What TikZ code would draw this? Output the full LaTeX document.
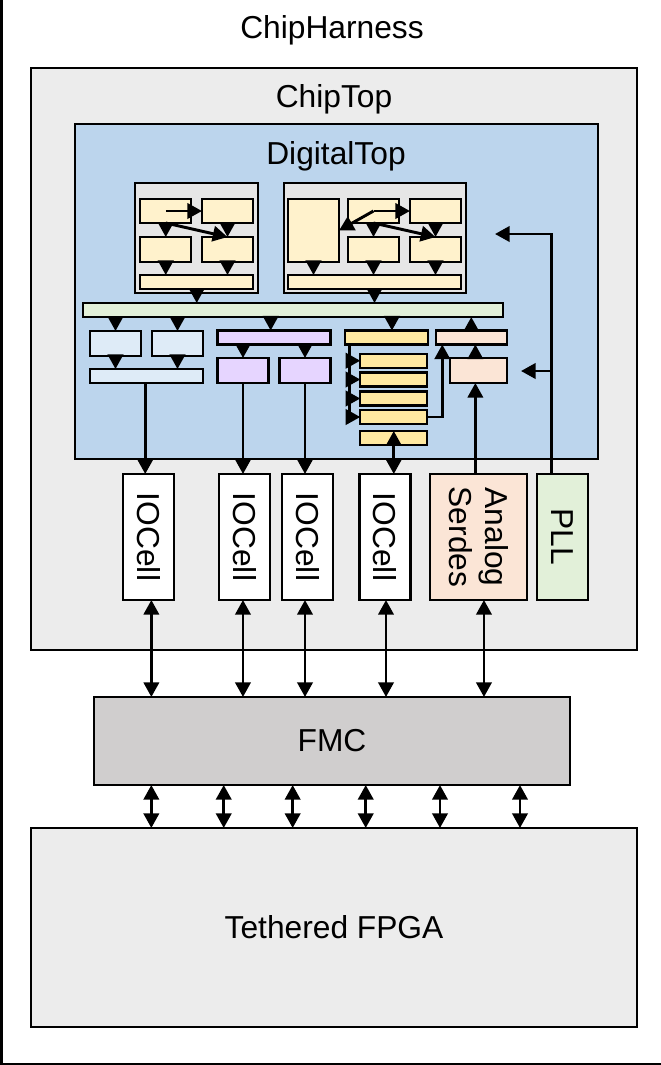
\documentclass[tikz,border=0pt]{standalone}
\usepackage{fontspec}
\setmainfont{Liberation Sans}
\usetikzlibrary{arrows.meta, positioning, calc}

\definecolor{chipgray}{HTML}{ECECEC}
\definecolor{digblue}{HTML}{BCD5ED}
\definecolor{tilegray}{HTML}{E6E6E6}
\definecolor{coreyellow}{HTML}{FFF2CC}
\definecolor{busgreen}{HTML}{E2F0D9}
\definecolor{periblue}{HTML}{DEEBF7}
\definecolor{peripurple}{HTML}{E6D5FF}
\definecolor{gpioyellow}{HTML}{FFE9A1}
\definecolor{serpeach}{HTML}{FBE5D6}
\definecolor{fmcgray}{HTML}{D0CECE}

\tikzset{wh/.style 2 args={minimum width=#1*0.75pt, minimum height=#2*0.75pt}}

\begin{document}
\begin{tikzpicture}[
  x=0.75pt, y=-0.75pt,
  blockbox/.style={rectangle, draw, outer sep=0pt, inner sep=0pt, line width=1.6pt},
  frame/.style={blockbox, line width=1.5pt, fill=chipgray},
  tile/.style={blockbox, fill=tilegray},
  core/.style={blockbox, fill=coreyellow},
  bus/.style={blockbox, fill=busgreen},
  peri/.style={blockbox, fill=periblue},
  purp/.style={blockbox, fill=peripurple},
  gpio/.style={blockbox, fill=gpioyellow},
  serd/.style={blockbox, fill=serpeach},
  iocell/.style={blockbox, fill=white, wh={51}{126}},
  label/.style={font=\fontsize{23.8}{27}\selectfont},
  vlabel/.style={label, rotate=-90, align=center},
  arrow/.style={-{Triangle[length=11pt, width=11.5pt]}, line width=2.2pt},
  biarrow/.style={{Triangle[length=11pt, width=11.5pt]}-{Triangle[length=11pt, width=11.5pt]}, line width=2.2pt}
]
\useasboundingbox (0,0) rectangle (661,1065);

% Frames
\node[frame, fill=white, wh={700}{1200}, anchor=south west] (harness) at (1.5,1064) {};
\node[label] (harnesslabel) at (332,30) {ChipHarness};
\node[frame, wh={606}{582}] (chiptop) at (334,359) {};
\node[label] (chiplabel) at (334,99) {ChipTop};
\node[frame, fill=digblue, wh={523}{335}] (digital) at (336.5,291.5) {};
\node[label] (digitallabel) at (336,156) {DigitalTop};

% Tiles
\node[tile, wh={122.5}{110}] (tileA) at (196.5,238) {};
\node[tile, wh={182}{110}] (tileB) at (375,238) {};

\node[core, wh={51}{24}] (a1) at (165.75,211) {};
\node[core, wh={51}{24}] (a2) at (227.5,211) {};
\node[core, wh={51}{25}] (a3) at (165.75,249.5) {};
\node[core, wh={51}{25}] (a4) at (227.5,249.5) {};
\node[core, wh={113}{14}] (abar) at (196.75,282) {};

\node[core, wh={51}{63}] (b0) at (313.5,230.5) {};
\node[core, wh={51}{24}] (b1) at (373.5,211) {};
\node[core, wh={51}{24}] (b2) at (435.5,211) {};
\node[core, wh={51}{25}] (b3) at (373.5,249.5) {};
\node[core, wh={51}{25}] (b4) at (435.5,249.5) {};
\node[core, wh={173}{14}] (bbar) at (374.5,282) {};

% Bus and peripherals
\node[bus, wh={420}{14}] (sbus) at (293,310) {};

\node[peri, wh={51}{25}] (c1) at (115.5,343.5) {};
\node[peri, wh={51}{25}] (c2) at (177.5,343.5) {};
\node[peri, wh={113}{14}] (cbar) at (146.5,376) {};

\node[purp, wh={113}{14}] (dbar) at (274,337.5) {};
\node[purp, wh={51}{25}] (d1) at (243,370.5) {};
\node[purp, wh={51}{25}] (d2) at (305,370.5) {};

\node[gpio, wh={83}{14}] (ebar) at (386.2,337.5) {};
\node[gpio, wh={67}{14}] (e1) at (393.8,360.7) {};
\node[gpio, wh={67}{14}] (e2) at (393.8,379.5) {};
\node[gpio, wh={67}{14}] (e3) at (393.8,398.5) {};
\node[gpio, wh={67}{14}] (e4) at (393.8,417) {};
\node[gpio, wh={67}{14}] (e5) at (393.8,438) {};

\node[serd, wh={71}{14}] (fbar) at (471.3,337.5) {};
\node[serd, wh={57}{25}] (f1) at (478.3,370.5) {};

% IO cells
\node[iocell] (io1) at (148.7,537) {};
\node[vlabel] (io1label) at (io1) {IOCell};
\node[iocell] (io2) at (244.7,537) {};
\node[vlabel] (io2label) at (io2) {IOCell};
\node[iocell] (io3) at (307.8,537) {};
\node[vlabel] (io3label) at (io3) {IOCell};
\node[iocell] (io4) at (385,537) {};
\node[vlabel] (io4label) at (io4) {IOCell};
\node[iocell, fill=serpeach, wh={97}{126}] (serdes) at (478.5,537) {};
\node[vlabel] (serdeslabel) at (serdes) {Analog\\Serdes};
\node[iocell, fill=busgreen] (pll) at (562.2,537) {};
\node[vlabel] (plllabel) at (pll) {PLL};

% Board
\node[blockbox, line width=1.5pt, fill=fmcgray, wh={476}{88}, label] (fmc) at (332,741) {FMC};
\node[frame, wh={606}{199}, label] (fpga) at (334,927.5) {Tethered FPGA};

% Tile arrows
\draw[arrow] (a1.center) -- (a2.west);
\draw[arrow] (a1.south) -- (a3.north);
\draw[arrow] (a1.south) -- (a4.north);
\draw[arrow] (a2.south) -- (a4.north);
\draw[arrow] (a3.south) -- (a3.south |- abar.north);
\draw[arrow] (a4.south) -- (a4.south |- abar.north);
\draw[arrow] (abar.south) -- (abar.south |- sbus.north);

\draw[arrow] (b1.center) -- (b0.east);
\draw[arrow] (b1.center) -- (b2.west);
\draw[arrow] (b1.south) -- (b3.north);
\draw[arrow] (b1.south) -- (b4.north);
\draw[arrow] (b2.south) -- (b4.north);
\draw[arrow] (b0.south) -- (b0.south |- bbar.north);
\draw[arrow] (b3.south) -- (b3.south |- bbar.north);
\draw[arrow] (b4.south) -- (b4.south |- bbar.north);
\draw[arrow] (bbar.south) -- (bbar.south |- sbus.north);

% Bus arrows
\draw[arrow] (c1.north |- sbus.south) -- (c1.north);
\draw[arrow] (c2.north |- sbus.south) -- (c2.north);
\draw[arrow] ([xshift=-2.5pt]dbar.north |- sbus.south) -- ([xshift=-2.5pt]dbar.north);
\draw[arrow] ([xshift=-1.4pt]e1.north |- sbus.south) -- ([xshift=-1.4pt]e1.north |- ebar.north);
\draw[arrow] (fbar.north) -- (fbar.north |- sbus.south);

\draw[arrow] (c1.south) -- (c1.south |- cbar.north);
\draw[arrow] (c2.south) -- (c2.south |- cbar.north);
\draw[arrow] (d1.north |- dbar.south) -- (d1.north);
\draw[arrow] (d2.north |- dbar.south) -- (d2.north);

% Down to the pads
\draw[arrow] ([xshift=-2.6pt]io1.north |- cbar.south) -- ([xshift=-2.6pt]io1.north);
\draw[arrow] (d1.south) -- (d1.south |- io2.north);
\draw[arrow] (d2.south) -- (d2.south |- io3.north);
\draw[biarrow] (e5.south |- io4.north) -- (e5.north);

% GPIO stack
\draw[line width=2.2pt] ([xshift=-27.2pt]ebar.south) -- ([xshift=-27.2pt]ebar.south |- e4.west);
\foreach \e in {e1, e2, e3, e4}
  \draw[arrow] ([xshift=-27.2pt]ebar.south |- \e.west) -- (\e.west);
\draw[arrow] (e4.east) -| ([xshift=-21.75pt]fbar.south);

% Serdes and PLL
\draw[arrow] ([xshift=-2.2pt]f1.north) -- ([xshift=-2.2pt]f1.north |- fbar.south);
\draw[arrow] ([xshift=-2.2pt]f1.south |- serdes.north) -- ([xshift=-2.2pt]f1.south);
\coordinate (clktile) at (495,234);
\coordinate (clkperi) at (521,371);
\draw[arrow] ([xshift=-7.8pt]pll.north) |- (clktile);
\draw[arrow] ([xshift=-7.8pt]pll.north |- clkperi) -- (clkperi);

% Off chip
\draw[biarrow] ([xshift=2pt]io1.south) -- ([xshift=2pt]io1.south |- fmc.north);
\draw[biarrow] ([xshift=-1.3pt]io2.south) -- ([xshift=-1.3pt]io2.south |- fmc.north);
\draw[biarrow] ([xshift=-2.1pt]io3.south) -- ([xshift=-2.1pt]io3.south |- fmc.north);
\draw[biarrow] ([xshift=0.75pt]io4.south) -- ([xshift=0.75pt]io4.south |- fmc.north);
\draw[biarrow] ([xshift=4.1pt]serdes.south) -- ([xshift=4.1pt]serdes.south |- fmc.north);
\foreach \dx in {-135.5, -81.2, -29.5, 25.3, 81, 141}
  \draw[biarrow] ([xshift=\dx pt]fmc.south) -- ([xshift=\dx pt]fmc.south |- fpga.north);

\end{tikzpicture}
\end{document}
